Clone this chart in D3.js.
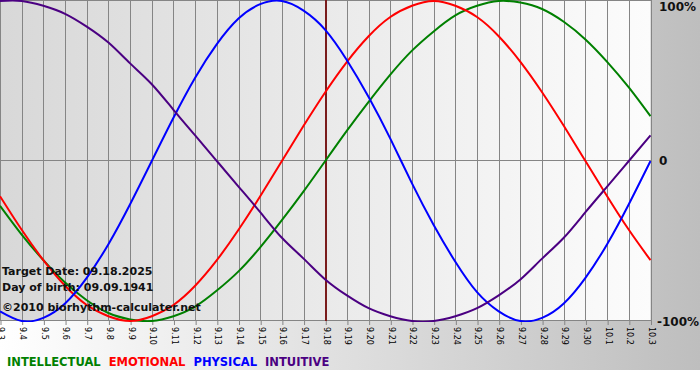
<!DOCTYPE html>
<html lang="en">
<head>
  <meta charset="UTF-8">
  <title>Biorhythm chart</title>
  <script src="https://d3js.org/d3.v7.min.js"></script>
  <style>
    body { margin: 0; background: #fff; }
    svg { display: block; }
    .info { font-family: "DejaVu Sans", Verdana, sans-serif; font-size: 11px; font-weight: bold; fill: #111; }
    .pct { font-family: "DejaVu Sans", Verdana, sans-serif; font-size: 12px; font-weight: bold; fill: #111; }
    .legend { font-family: "DejaVu Sans", Verdana, sans-serif; font-size: 11.5px; font-weight: bold; }
    .x-axis text { font-family: "DejaVu Sans", Verdana, sans-serif; font-size: 8px; fill: #000; }
  </style>
</head>
<body>
<svg id="chart" width="700" height="380"></svg>
<script>
  // Day labels, 3 Sep .. 3 Oct
  const days = ["9.3","9.4","9.5","9.6","9.7","9.8","9.9","9.10","9.11","9.12","9.13","9.14","9.15","9.16","9.17",
    "9.18","9.19","9.20","9.21","9.22","9.23","9.24","9.25","9.26","9.27","9.28","9.29","9.30","10.1","10.2","10.3"];
  const targetDay = "9.18";

  // Values per day (-1 .. 1)
  const intellectual = [-0.28,-0.46,-0.62,-0.76,-0.87,-0.95,-0.99,-1.00,-0.97,-0.91,-0.81,-0.69,-0.54,-0.37,-0.19,
    0.00,0.19,0.37,0.54,0.69,0.81,0.91,0.97,1.00,0.99,0.95,0.87,0.76,0.62,0.46,0.28];
  const emotional = [-0.22,-0.43,-0.62,-0.78,-0.90,-0.97,-1.00,-0.97,-0.90,-0.78,-0.62,-0.43,-0.22,
    0.00,0.22,0.43,0.62,0.78,0.90,0.97,1.00,0.97,0.90,0.78,0.62,0.43,0.22,0.00,-0.22,-0.43,-0.62];
  const physical = [-0.94,-1.00,-0.98,-0.89,-0.73,-0.52,-0.27,0.00,0.27,0.52,0.73,0.89,0.98,1.00,0.94,
    0.82,0.63,0.40,0.14,-0.14,-0.40,-0.63,-0.82,-0.94,-1.00,-0.98,-0.89,-0.73,-0.52,-0.27,0.00];
  const intuitive = [1.00,1.00,0.97,0.92,0.84,0.74,0.61,0.48,0.32,0.16,0.00,-0.16,-0.32,-0.48,-0.61,
    -0.74,-0.84,-0.92,-0.97,-1.00,-1.00,-0.97,-0.92,-0.84,-0.74,-0.61,-0.48,-0.32,-0.16,0.00,0.16];

  const seriesNames = ["INTELLECTUAL", "EMOTIONAL", "PHYSICAL", "INTUITIVE"];
  const seriesValues = [intellectual, emotional, physical, intuitive];
  const seriesColors = ["#008000", "#ff0000", "#0000ff", "#4b0082"];
  const infoLines = ["Target Date: 09.18.2025", "Day of birth: 09.09.1941", "\u00a92010 biorhythm-calculater.net"];

  const W = 700, H = 380;
  const plot = { left: 0, right: 650.5, top: 1, bottom: 321 };

  const svg = d3.select("#chart");
  const defs = svg.append("defs");

  // background gradients
  const bgGrad = defs.append("linearGradient").attr("id", "bgGrad");
  bgGrad.append("stop").attr("offset", "0%").attr("stop-color", "#ffffff");
  bgGrad.append("stop").attr("offset", "100%").attr("stop-color", "#bebebe");

  const plotGrad = defs.append("linearGradient").attr("id", "plotGrad");
  plotGrad.append("stop").attr("offset", "0%").attr("stop-color", "#d8d8d8");
  plotGrad.append("stop").attr("offset", "100%").attr("stop-color", "#fcfcfc");

  defs.append("clipPath").attr("id", "plotClip")
    .append("rect")
    .attr("x", plot.left).attr("y", plot.top - 1)
    .attr("width", plot.right - plot.left + 1).attr("height", plot.bottom - plot.top + 2);

  svg.append("rect").attr("width", W).attr("height", 370).attr("fill", "url(#bgGrad)");
  svg.append("rect").attr("y", 370).attr("width", W).attr("height", H - 370).attr("fill", "#fff");
  svg.append("rect")
    .attr("x", plot.left).attr("y", 0)
    .attr("width", plot.right - plot.left).attr("height", plot.bottom)
    .attr("fill", "url(#plotGrad)");

  // scales
  const x = d3.scaleLinear().domain([0, days.length - 1]).range([plot.left, plot.right]);
  const y = d3.scaleLinear().domain([-1, 1]).range([plot.bottom, plot.top]);
  const crisp = v => Math.round(v) + 0.5;

  // vertical grid
  svg.append("g")
    .selectAll("line")
    .data(days)
    .join("line")
    .attr("x1", (d, i) => crisp(x(i))).attr("x2", (d, i) => crisp(x(i)))
    .attr("y1", 0).attr("y2", plot.bottom)
    .attr("stroke", "#858585").attr("stroke-width", 1);

  // horizontal grid: top, zero, bottom
  svg.append("g")
    .selectAll("line")
    .data([1, 0, -1])
    .join("line")
    .attr("x1", plot.left).attr("x2", crisp(plot.right))
    .attr("y1", d => crisp(y(d) - 1)).attr("y2", d => crisp(y(d) - 1))
    .attr("stroke", "#858585").attr("stroke-width", 1);

  // x axis with rotated labels
  const xAxis = d3.axisBottom(x)
    .tickValues(d3.range(days.length))
    .tickFormat(i => days[i])
    .tickSize(4)
    .tickSizeOuter(0);

  const gx = svg.append("g")
    .attr("class", "x-axis")
    .attr("transform", `translate(0.5,${plot.bottom})`)
    .call(xAxis);
  gx.select(".domain").remove();
  gx.selectAll(".tick line").attr("stroke", "#858585");
  gx.selectAll(".tick text")
    .attr("transform", "rotate(90)")
    .attr("x", 6).attr("y", 0).attr("dy", "0.32em")
    .attr("text-anchor", "start");

  // target date marker
  const ti = days.indexOf(targetDay);
  svg.append("line")
    .attr("x1", Math.round(x(ti)) + 1).attr("x2", Math.round(x(ti)) + 1)
    .attr("y1", 0).attr("y2", plot.bottom)
    .attr("stroke", "#7a1c1c").attr("stroke-width", 2);

  // curves
  const line = d3.line()
    .x((d, i) => x(i))
    .y(d => y(d))
    .curve(d3.curveNatural);

  svg.append("g")
    .attr("clip-path", "url(#plotClip)")
    .selectAll("path")
    .data(seriesValues)
    .join("path")
    .attr("d", line)
    .attr("fill", "none")
    .attr("stroke", (d, i) => seriesColors[i])
    .attr("stroke-width", 2);

  // percent labels
  svg.append("text").attr("class", "pct").attr("x", 659).attr("y", y(1) + 10).text("100%");
  svg.append("text").attr("class", "pct").attr("x", 659).attr("y", y(0) + 4).text("0");
  svg.append("text").attr("class", "pct").attr("x", 657).attr("y", y(-1) + 5).text("-100%");

  // info text
  svg.append("g")
    .selectAll("text")
    .data(infoLines)
    .join("text")
    .attr("class", "info")
    .attr("x", 2)
    .attr("y", (d, i) => [275, 291, 311][i])
    .text(d => d);

  // legend
  const legend = svg.append("text").attr("class", "legend").attr("x", 7).attr("y", 366);
  seriesNames.forEach((name, i) => {
    legend.append("tspan")
      .attr("fill", seriesColors[i])
      .attr("dx", i === 0 ? 0 : 8)
      .text(name);
  });
</script>
</body>
</html>
